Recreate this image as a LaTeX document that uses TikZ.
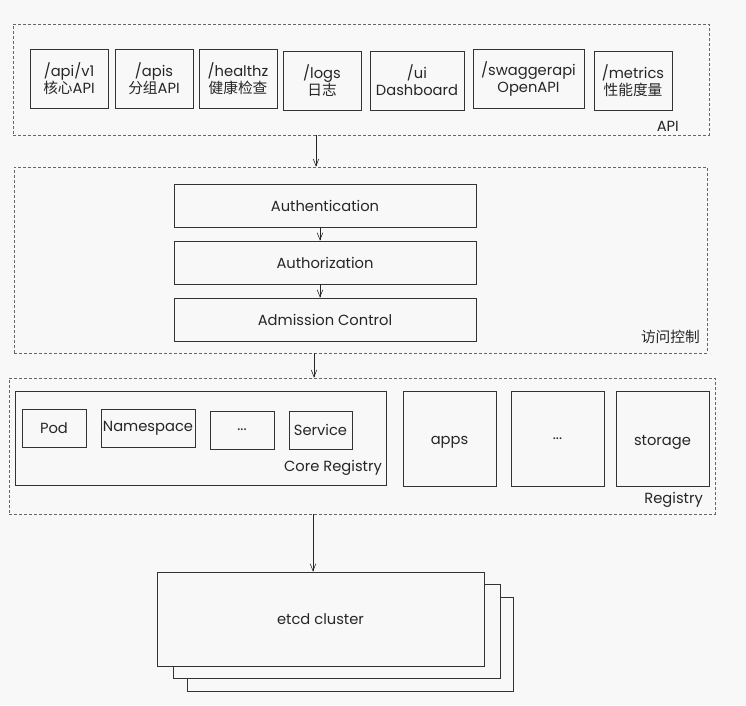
\documentclass[tikz,border=0pt]{standalone}
\usepackage{fontspec}
\setmainfont{Poppins}
\newfontfamily\cjk{Noto Sans CJK SC}
\usetikzlibrary{arrows.meta}
\definecolor{bgc}{HTML}{F8F8F8}
\begin{document}
\begin{tikzpicture}[x=1pt,y=-1pt,
  txt/.style={font=\fontsize{14.7}{17}\selectfont, text=black!85},
  box/.style={txt, draw=black!80, line width=0.7pt, fill=bgc, inner sep=0pt, align=center},
  frame/.style={draw=black!60, dash pattern=on 3pt off 2pt, line width=0.6pt, inner sep=0pt},
  arr/.style={draw=black!85, line width=0.6pt, -{Straight Barb[length=7pt,width=5.5pt]}},
  lbl/.style={txt, anchor=east, inner sep=0pt}]
\fill[bgc] (0,0) rectangle (746,705);
\useasboundingbox (0,0) rectangle (746,705);

% API layer
\node[frame, minimum width=696pt, minimum height=111pt] (apiframe) at (361,79.5) {};
\node[box, minimum width=78pt, minimum height=59pt] (apiv1) at (69,78.5) {/api/v1\\{\cjk 核心}API};
\node[box, minimum width=78pt, minimum height=59pt] (apis) at (154,78.5) {/apis\\{\cjk 分组}API};
\node[box, minimum width=78pt, minimum height=59pt] (healthz) at (238,78.5) {/healthz\\{\cjk 健康检查}};
\node[box, minimum width=78pt, minimum height=59pt] (logs) at (322,80.5) {/logs\\{\cjk 日志}};
\node[box, minimum width=94pt, minimum height=59pt] (ui) at (417,80.5) {/ui\\Dashboard};
\node[box, minimum width=111pt, minimum height=59pt] (swagger) at (528.5,78.5) {/swaggerapi\\OpenAPI};
\node[box, minimum width=78pt, minimum height=59pt] (metrics) at (633,80.5) {/metrics\\{\cjk 性能度量}};
\node[lbl] (apilbl) at (679,126) {API};

% access control layer
\node[frame, minimum width=693pt, minimum height=186pt] (accframe) at (360.5,260) {};
\node[box, minimum width=302pt, minimum height=43pt] (authn) at (325,205.5) {Authentication};
\node[box, minimum width=302pt, minimum height=43pt] (authz) at (325,262.5) {Authorization};
\node[box, minimum width=302pt, minimum height=43pt] (adm) at (325,319.5) {Admission Control};
\node[lbl] (acclbl) at (700,337) {\cjk 访问控制};

% registry layer
\node[frame, minimum width=706pt, minimum height=136pt] (regframe) at (362,446) {};
\node[box, minimum width=371pt, minimum height=94pt] (core) at (200.5,438) {};
\node[box, minimum width=64pt, minimum height=38pt] (pod) at (54,428) {Pod};
\node[box, minimum width=94pt, minimum height=38pt] (ns) at (148,428) {Namespace};
\node[box, minimum width=64pt, minimum height=38pt] (dots) at (242,430) {...};
\node[box, minimum width=63pt, minimum height=38pt] (svc) at (320.5,430) {Service};
\node[lbl] (corelbl) at (382,468) {Core Registry};
\node[box, minimum width=93pt, minimum height=95pt, text depth=0pt] (apps) at (449.5,438.5) {\raisebox{-3pt}{apps}};
\node[box, minimum width=93pt, minimum height=95pt] (dots2) at (557.5,438.5) {...};
\node[box, minimum width=93pt, minimum height=95pt, text depth=0pt] (storage) at (662.5,438.5) {\raisebox{-3pt}{storage}};
\node[lbl] (reglbl) at (703,500) {Registry};

% etcd
\node[box, minimum width=326pt, minimum height=94pt] (etcd3) at (350,644) {};
\node[box, minimum width=327pt, minimum height=94pt] (etcd2) at (336.5,631) {};
\node[box, minimum width=327pt, minimum height=94pt] (etcd) at (320.5,619) {etcd cluster};

% connectors
\draw[arr] (316,0 |- apiframe.south) -- (316,0 |- accframe.north);
\draw[arr] (320,0 |- authn.south) -- (320,0 |- authz.north);
\draw[arr] (320,0 |- authz.south) -- (320,0 |- adm.north);
\draw[arr] (314,0 |- accframe.south) -- (314,0 |- regframe.north);
\draw[arr] (313,0 |- regframe.south) -- (313,0 |- etcd.north);
\end{tikzpicture}
\end{document}
